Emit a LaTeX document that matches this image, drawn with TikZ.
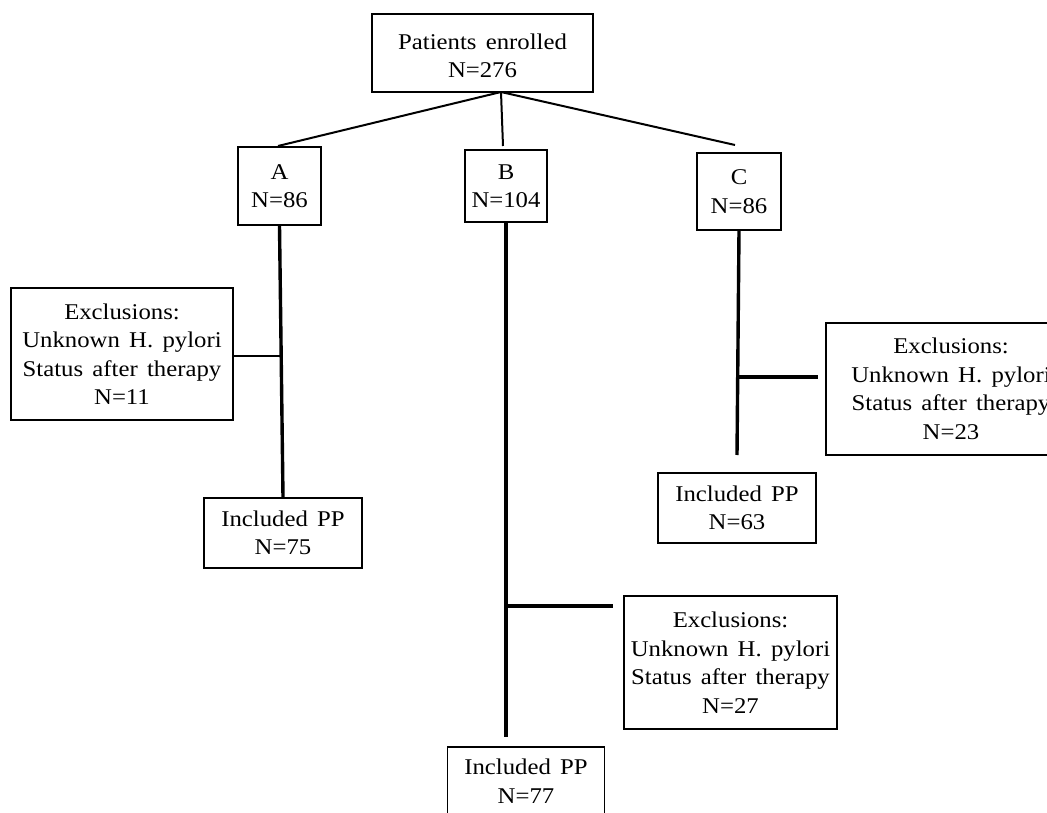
\documentclass[tikz,border=0pt]{standalone}
\usepackage{fontspec}
\setmainfont{Liberation Serif}[FakeStretch=1.1,WordSpace=1.5]
\usetikzlibrary{calc}
\begin{document}
\begin{tikzpicture}[x=1pt,y=-1pt,
  box/.style={draw, line width=1.8pt, inner sep=0pt, align=center,
    font=\fontsize{22.5}{28.5}\selectfont},
  thinline/.style={line width=2pt},
  thickline/.style={line width=3.4pt}]
\fill[white] (0,0) rectangle (1047,813);
\useasboundingbox (0,0) rectangle (1047,813);

% boxes
\node[box, minimum width=221pt, minimum height=78pt] (top) at (482.5,53) {\rule{0pt}{21pt}Patients enrolled\\N=276};
\node[box, minimum width=83pt, minimum height=78pt] (A) at (279.5,186) {A\\N=86};
\node[box, minimum width=82pt, minimum height=72pt] (B) at (506,186) {B\\N=104};
\node[box, minimum width=84pt, minimum height=77pt] (C) at (739,191.5) {C\\N=86};

\node[box, minimum width=222pt, minimum height=132pt] (ExA) at (122,354) {Exclusions:\\Unknown H. pylori\\Status after therapy\\N=11};
\node[box, minimum width=158pt, minimum height=70pt] (IncA) at (283,533) {Included PP\\N=75};

\node[box, minimum width=213pt, minimum height=133pt] (ExB) at (730.5,662.5) {Exclusions:\\Unknown H. pylori\\Status after therapy\\N=27};
\node[box, minimum width=157pt, minimum height=68pt] (IncB) at (526,781) {Included PP\\N=77};

\node[box, minimum width=250pt, minimum height=132pt] (ExC) at (951,389) {Exclusions:\\Unknown H. pylori\\Status after therapy\\N=23};
\node[box, minimum width=158pt, minimum height=70pt] (IncC) at (737,508) {Included PP\\N=63};

% top connectors
\coordinate (j) at (501,92);
\coordinate (aT) at (278,146);
\coordinate (bT) at (503,146);
\coordinate (cT) at (735,145);
\draw[thinline] (j) -- (aT);
\draw[thinline] (j) -- (bT);
\draw[thinline] (j) -- (cT);

% arm A
\draw[thickline] (A.south) -- (IncA.north);
\coordinate (ja) at ($(A.south)!0.48!(IncA.north)$);
\draw[thinline] (ExA.east |- ja) -- (ja);

% arm B
\coordinate (bE) at (506,737);
\coordinate (bX) at (613,606);
\draw[thickline] (B.south) -- (bE);
\draw[thickline] (bE |- bX) -- (bX);

% arm C
\coordinate (cE) at (737,455);
\coordinate (cX) at (818,377);
\draw[thickline] (C.south) -- (cE);
\draw[thickline] (cE |- cX) -- (cX);
\end{tikzpicture}
\end{document}
